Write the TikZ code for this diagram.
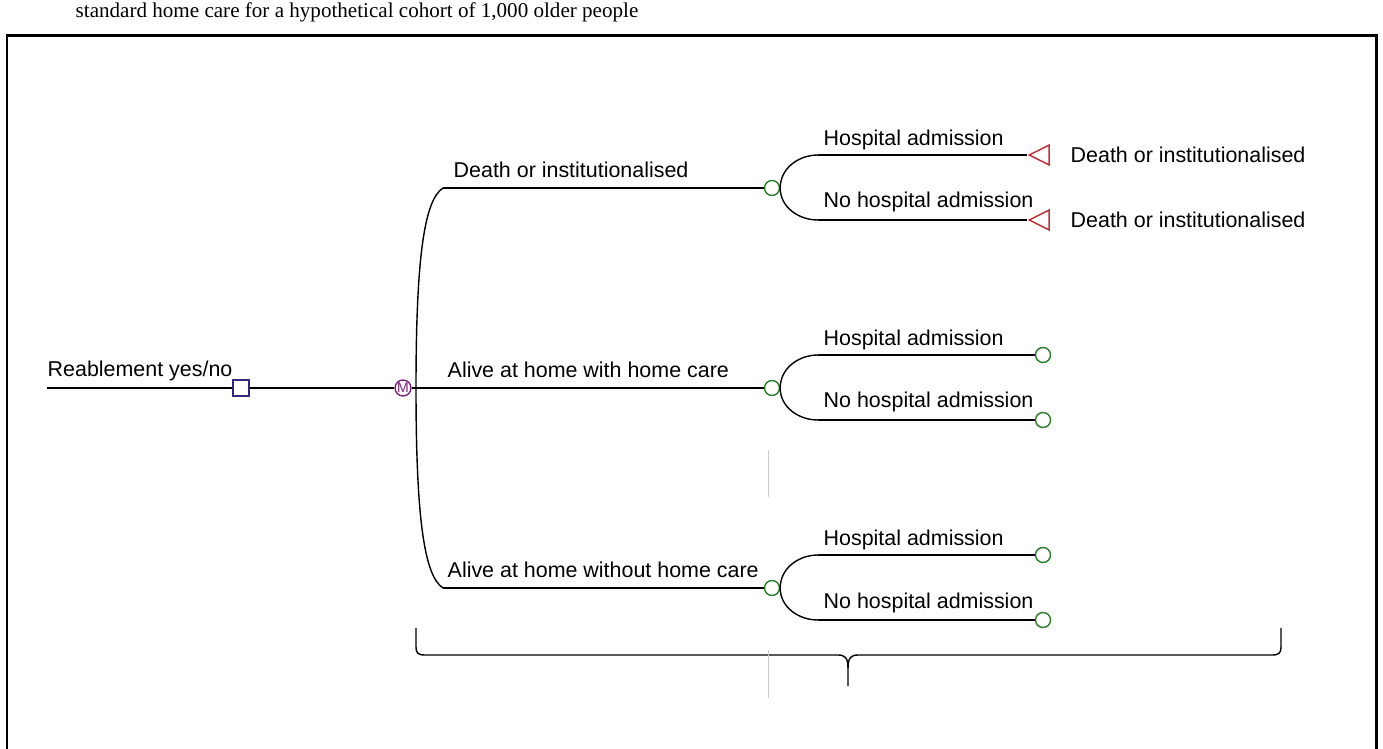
\documentclass[tikz,border=0pt]{standalone}
\usepackage{fontspec}
\setmainfont{Liberation Sans}
\newfontfamily\captionfont{Liberation Serif}
\usetikzlibrary{shapes.geometric}

\definecolor{decblue}{RGB}{45,40,125}
\definecolor{markovpurple}{RGB}{125,35,125}
\definecolor{chancegreen}{RGB}{40,125,40}
\definecolor{termred}{RGB}{200,45,55}

\begin{document}
\begin{tikzpicture}[x=0.02cm,y=-0.02cm,line width=0.8pt,
    lbl/.style={anchor=base west,inner sep=0pt,font=\fontsize{12.2}{14}\selectfont},
    decision node/.style={rectangle,draw=decblue,fill=white,inner sep=0pt,minimum size=0.32cm},
    markov node/.style={circle,draw=markovpurple,text=markovpurple,inner sep=0pt,minimum size=0.32cm,font=\fontsize{8}{8}\selectfont},
    chance node/.style={circle,draw=chancegreen,fill=white,inner sep=0pt,minimum size=0.3cm},
    terminal node/.style={isosceles triangle,isosceles triangle stretches,shape border rotate=180,draw=termred,inner sep=0pt,minimum width=0.4cm,minimum height=0.4cm}]
    \useasboundingbox (0,0) rectangle (1383,749);
    \clip (0,0) rectangle (1383,749);

    % caption cut off by the page, and the frame
    \node[anchor=base west,inner sep=0pt,font=\captionfont\fontsize{12}{14}\selectfont] (caption) at (75,18) {standard home care for a hypothetical cohort of 1,000 older people};
    \draw[line width=1.7pt] (7,36) rectangle (1376,800);

    % nodes
    \coordinate (root) at (47,388);
    \node[decision node] (dec) at (241,388) {};
    \node[markov node] (mkv) at (403,388) {M};
    \coordinate (mj) at (416,388);
    \coordinate (b1) at (443,188);
    \coordinate (b3) at (443,588);
    \node[chance node] (c1) at (772,188) {};
    \node[chance node] (c2) at (772,388) {};
    \node[chance node] (c3) at (772,588) {};

    \coordinate (s1) at (818,155);
    \coordinate (s2) at (818,220);
    \coordinate (s3) at (818,355);
    \coordinate (s4) at (818,420);
    \coordinate (s5) at (818,555);
    \coordinate (s6) at (818,620);
    \node[terminal node] (t1) at (1043,155) {};
    \node[terminal node] (t2) at (1043,220) {};
    \node[chance node] (e3) at (1043,355) {};
    \node[chance node] (e4) at (1043,420) {};
    \node[chance node] (e5) at (1043,555) {};
    \node[chance node] (e6) at (1043,620) {};

    % labels
    \node[lbl] (l0) at (47,377) {Reablement yes/no};
    \node[lbl] (l1) at (453,178) {Death or institutionalised};
    \node[lbl] (l2) at (447,378) {Alive at home with home care};
    \node[lbl] (l3) at (447,578) {Alive at home without home care};
    \node[lbl] (h1) at (823,146) {Hospital admission};
    \node[lbl] (h2) at (823,208) {No hospital admission};
    \node[lbl] (h3) at (823,346) {Hospital admission};
    \node[lbl] (h4) at (823,408) {No hospital admission};
    \node[lbl] (h5) at (823,546) {Hospital admission};
    \node[lbl] (h6) at (823,608) {No hospital admission};
    \node[lbl] (d1) at (1070,163) {Death or institutionalised};
    \node[lbl] (d2) at (1070,228) {Death or institutionalised};

    % branches
    \path
        (root) edge (dec)
        (dec) edge (mkv)
        (mkv) edge (c2)
        (b1) edge (c1)
        (b3) edge (c3)
        (s1) edge (t1)
        (s2) edge (t2)
        (s3) edge (e3)
        (s4) edge (e4)
        (s5) edge (e5)
        (s6) edge (e6);
    \draw (b1) .. controls (424,200) and (416,260) .. (mj) .. controls (416,516) and (424,576) .. (b3);
    \draw (c1.east) to[out=90,in=180] (s1);
    \draw (c1.east) to[out=-90,in=180] (s2);
    \draw (c2.east) to[out=90,in=180] (s3);
    \draw (c2.east) to[out=-90,in=180] (s4);
    \draw (c3.east) to[out=90,in=180] (s5);
    \draw (c3.east) to[out=-90,in=180] (s6);

    % brace under the tree
    \draw (416,628) -- (416,647) .. controls (416,653) and (418,655) .. (425,655) -- (838,655)
        .. controls (845,655) and (848,658) .. (848,668) -- (848,686);
    \draw (848,668) .. controls (848,658) and (851,655) .. (858,655) -- (1272,655)
        .. controls (1279,655) and (1281,653) .. (1281,647) -- (1281,628);

    % faint marks
    \draw[gray!40,line width=0.4pt] (768,450) -- (768,497);
    \draw[gray!40,line width=0.4pt] (768,650) -- (768,698);
\end{tikzpicture}
\end{document}
